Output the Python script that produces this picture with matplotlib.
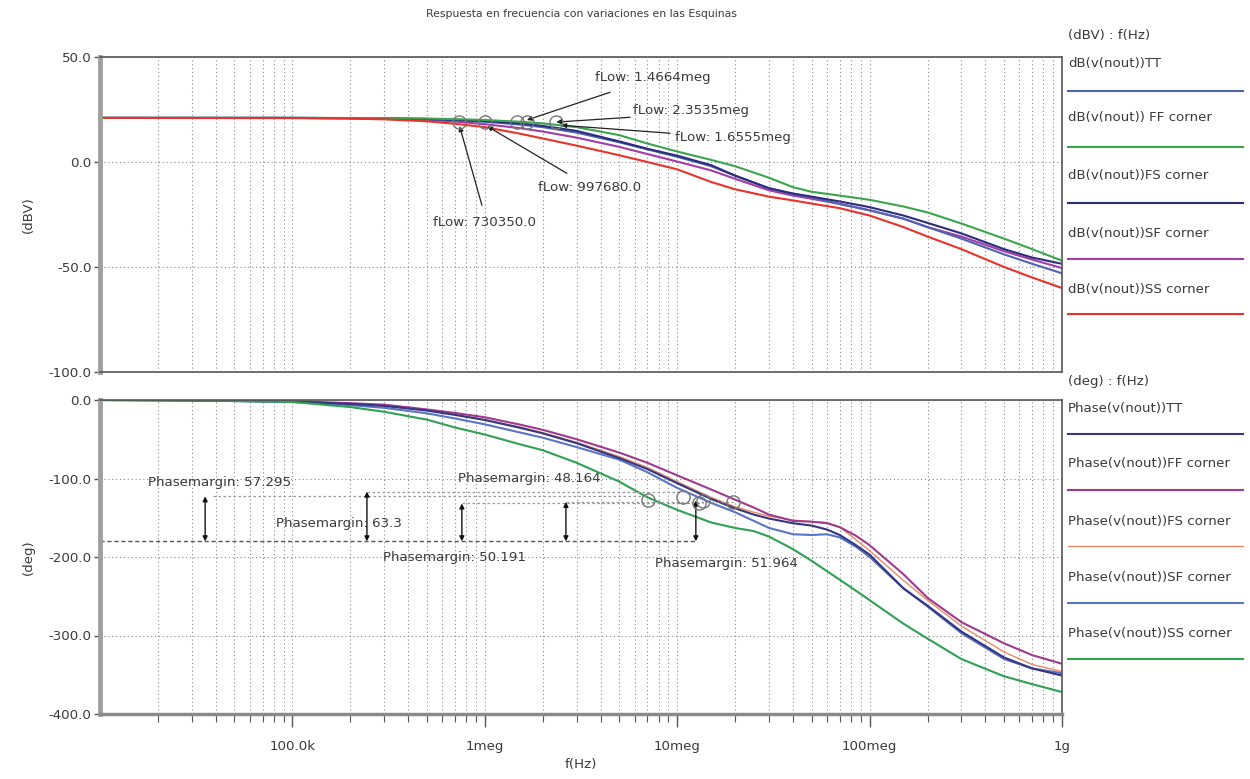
import numpy as np
import matplotlib
matplotlib.use('Agg')
import matplotlib.pyplot as plt
from matplotlib.ticker import FixedLocator, NullFormatter, FixedFormatter
from matplotlib.lines import Line2D

plt.rcParams['font.family'] = ['DejaVu Sans']

# ---------------- data ----------------
freq_mag = [1e4, 1e5, 2e5, 3e5, 5e5, 7e5, 1e6, 1.5e6, 2e6, 3e6, 5e6, 7e6, 1e7,
            1.5e7, 2e7, 3e7, 4e7, 5e7, 7e7, 1e8, 1.5e8, 2e8, 3e8, 5e8, 7e8, 1e9]
mag_TT = [21.0, 21.0, 20.9, 20.7, 20.4, 19.9, 19.2, 17.9, 16.6, 14.0, 9.4, 6.0, 2.5,
          -2.0, -6.5, -12.5, -15.3, -16.8, -20.0, -23.0, -27.0, -31.0, -36.5, -44.0, -48.5, -53.0]
mag_FF = [21.0, 21.0, 20.95, 20.9, 20.7, 20.4, 20.0, 19.2, 18.4, 16.6, 12.8, 8.8, 5.0,
          1.0, -2.0, -7.5, -12.0, -14.2, -16.0, -18.0, -21.2, -24.0, -29.3, -36.5, -41.5, -47.0]
mag_FS = [21.0, 21.0, 20.9, 20.8, 20.5, 20.1, 19.5, 18.4, 17.2, 14.8, 9.8, 6.3, 3.0,
          -1.5, -6.5, -12.5, -15.0, -16.5, -18.8, -21.5, -25.5, -29.0, -34.0, -41.5, -45.5, -48.5]
mag_SF = [21.0, 21.0, 20.8, 20.6, 20.1, 19.3, 18.0, 16.2, 14.5, 11.6, 7.2, 3.8, 0.2,
          -4.0, -8.0, -13.5, -16.0, -17.5, -20.0, -23.0, -27.0, -31.0, -35.5, -42.5, -46.5, -50.5]
mag_SS = [21.0, 20.9, 20.7, 20.3, 19.4, 18.2, 16.6, 13.6, 11.2, 7.8, 3.2, 0.0, -3.5,
          -9.5, -13.0, -16.5, -18.3, -19.8, -22.0, -25.5, -31.0, -35.5, -41.5, -50.0, -55.0, -60.0]

freq_ph = [1e4, 3e4, 1e5, 2e5, 3e5, 5e5, 7e5, 1e6, 1.5e6, 2e6, 3e6, 5e6, 7e6, 1e7, 1.5e7,
           2e7, 2.5e7, 3e7, 4e7, 5e7, 6e7, 7e7, 8.5e7, 1e8, 1.5e8, 2e8, 3e8, 5e8, 7e8, 1e9]
ph_TT = [0, -0.5, -2, -5, -7.5, -13.5, -19, -25.5, -35, -42.5, -55, -74, -88, -106, -126,
         -138, -146, -151, -157, -160, -165, -172, -185, -197, -240, -262, -295, -328, -342, -351]
ph_FF = [0, -0.3, -1.5, -4, -6, -12, -16.5, -22, -31, -38, -50, -67, -80, -96, -114,
         -127, -137, -146, -154, -155, -157, -162, -173, -185, -222, -252, -283, -310, -325, -336]
ph_FS = [0, -0.5, -2, -5, -7.5, -13, -18.5, -25, -34, -41.5, -54, -72, -86, -104, -124,
         -136, -143, -148, -153, -155, -156, -162, -178, -192, -230, -255, -288, -321, -337, -346]
ph_SF = [0, -0.5, -2.5, -6.5, -10, -17, -23.5, -31, -41, -48, -60, -76, -92, -112, -131,
         -143, -154, -163, -171, -172, -171, -175, -187, -200, -240, -263, -297, -330, -342, -348]
ph_SS = [0, -0.5, -2.5, -9, -15, -25, -35, -44, -56, -64, -80, -104, -124, -140, -156,
         -163, -167, -174, -190, -205, -218, -229, -243, -255, -285, -304, -330, -352, -362, -372]

flow_freq = [730350.0, 997680.0, 1.4664e6, 1.6555e6, 2.3535e6]
flow_val = [19.0, 19.0, 19.0, 19.0, 19.0]
flow_labels = ['fLow: 730350.0', 'fLow: 997680.0', 'fLow: 1.4664meg', 'fLow: 1.6555meg', 'fLow: 2.3535meg']

pm_freq = [7.05e6, 1.07e7, 1.3e7, 1.36e7, 1.95e7]
pm_val = [-128, -124, -131, -129, -130]
pm_values = [57.295, 63.3, 50.191, 48.164, 51.964]

mag_labels = ['dB(v(nout))TT', 'dB(v(nout)) FF corner', 'dB(v(nout))FS corner',
              'dB(v(nout))SF corner', 'dB(v(nout))SS corner']
ph_labels = ['Phase(v(nout))TT', 'Phase(v(nout))FF corner', 'Phase(v(nout))FS corner',
             'Phase(v(nout))SF corner', 'Phase(v(nout))SS corner']

mag_colors = ['#4f63b5', '#3aa54c', '#2b2d7c', '#a33ca6', '#e8322b']
ph_colors = ['#34367f', '#9e3a8e', '#ea8a62', '#5a74c8', '#2fa153']

x_ticks = [1e5, 1e6, 1e7, 1e8, 1e9]
x_ticklabels = ['100.0k', '1meg', '10meg', '100meg', '1g']
mag_yticks = [50, 0, -50, -100]
mag_yticklabels = ['50.0', '0.0', '-50.0', '-100.0']
ph_yticks = [0, -100, -200, -300, -400]
ph_yticklabels = ['0.0', '-100.0', '-200.0', '-300.0', '-400.0']

# ---------------- figure ----------------
W, H = 1250, 779
fig = plt.figure(figsize=(12.5, 7.79), dpi=100)
ax1 = fig.add_axes([100 / W, 1 - 372 / H, 962 / W, 315 / H])
ax2 = fig.add_axes([100 / W, 1 - 714 / H, 962 / W, 314 / H])

txtc = '#3a3a3a'
FS = 9.6
minor = [m * 10 ** d for d in range(4, 9) for m in range(2, 10)]


def style(ax, yticks, ylabels, ylim):
    ax.set_xscale('log')
    ax.set_xlim(1e4, 1e9)
    ax.set_ylim(*ylim)
    ax.xaxis.set_major_locator(FixedLocator(x_ticks))
    ax.xaxis.set_major_formatter(FixedFormatter(x_ticklabels))
    ax.xaxis.set_minor_locator(FixedLocator(minor))
    ax.xaxis.set_minor_formatter(NullFormatter())
    ax.yaxis.set_major_locator(FixedLocator(yticks))
    ax.yaxis.set_major_formatter(FixedFormatter(ylabels))
    ax.yaxis.set_minor_locator(FixedLocator([]))
    ax.grid(True, which='both', axis='x', linestyle=(0, (1, 2.5)), color='#8a8a8a', lw=0.8)
    ax.grid(True, which='major', axis='y', linestyle=(0, (1, 2.5)), color='#8a8a8a', lw=0.8)
    for s in ['top', 'right', 'bottom']:
        ax.spines[s].set_color('#555555')
        ax.spines[s].set_linewidth(1.2)
    ax.spines['left'].set_color('#a0a0a0')
    ax.spines['left'].set_linewidth(3.5)
    ax.tick_params(axis='y', which='major', length=4, width=1, color='#555555',
                   labelsize=FS, labelcolor=txtc, pad=2)


style(ax1, mag_yticks, mag_yticklabels, (-100, 50))
style(ax2, ph_yticks, ph_yticklabels, (-400, 0))
ax1.tick_params(axis='x', which='both', bottom=False, labelbottom=False)
ax2.tick_params(axis='x', which='major', length=9, width=1, color='#555555',
                labelsize=FS, labelcolor=txtc, pad=10)
ax2.tick_params(axis='x', which='minor', length=6, width=0.8, color='#555555')
ax2.spines['bottom'].set_color('#8a8a8a')
ax2.spines['bottom'].set_linewidth(2.5)

ax1.set_ylabel('(dBV)', fontsize=FS, color=txtc, labelpad=10)
ax2.set_ylabel('(deg)', fontsize=FS, color=txtc, labelpad=10)
ax2.set_xlabel('f(Hz)', fontsize=FS, color=txtc, labelpad=3)

# ---------------- curves ----------------
mags = [mag_TT, mag_FF, mag_FS, mag_SF, mag_SS]
for i in [3, 0, 2, 1, 4]:
    ax1.plot(freq_mag, mags[i], color=mag_colors[i], lw=1.5, solid_joinstyle='round')

phs = [ph_TT, ph_FF, ph_FS, ph_SF, ph_SS]
for i in [2, 1, 3, 0, 4]:
    ax2.plot(freq_ph, phs[i], color=ph_colors[i], lw=1.5 if i != 2 else 1.0,
             solid_joinstyle='round')

# ---------------- top annotations ----------------
ax1.plot(flow_freq, flow_val, linestyle='none', marker='o', ms=9.5, mfc='none',
         mec='#777777', mew=1.0, zorder=5)
ann = [
    (flow_labels[2], (3.74e6, 40.3), (4.48e6, 33.2), (1.6555e6, 20.0)),
    (flow_labels[4], (5.89e6, 24.6), (5.69e6, 21.3), (2.3535e6, 19.0)),
    (flow_labels[3], (9.75e6, 11.8), (9.18e6, 13.7), (2.5e6, 17.5)),
    (flow_labels[1], (1.89e6, -12.0), (2.67e6, -5.4), (1.03e6, 17.0)),
    (flow_labels[0], (5.38e5, -28.7), (9.66e5, -20.6), (7.4e5, 17.0)),
]
for lab, tp, p0, p1 in ann:
    ax1.text(tp[0], tp[1], lab, fontsize=FS, color=txtc, va='center', ha='left')
    ax1.annotate('', xy=p1, xytext=p0,
                 arrowprops=dict(arrowstyle='-|>', lw=0.9, color='#222222',
                                 mutation_scale=7, shrinkA=0, shrinkB=0))

# ---------------- bottom annotations ----------------
ax2.plot([1e4, 1.25e7], [-180, -180], linestyle=(0, (3, 2)), color='#555555', lw=1.0)
for (f0, f1, y) in [(3.86e4, 7.05e6, -122.7), (2.44e5, 1.07e7, -116.7),
                    (7.6e5, 1.36e7, -131.8), (2.64e6, 1.95e7, -129.8)]:
    ax2.plot([f0, f1], [y, y], linestyle=(0, (2, 2)), color='#999999', lw=0.9)

ax2.plot(pm_freq, pm_val, linestyle='none', marker='o', ms=9.5, mfc='none',
         mec='#777777', mew=1.0, zorder=5)
arrows = [(3.52e4, -122.7), (2.44e5, -116.7), (7.6e5, -131.8), (2.64e6, -129.8),
          (1.25e7, -128.0)]
for f, y in arrows:
    ax2.annotate('', xy=(f, -180), xytext=(f, y),
                 arrowprops=dict(arrowstyle='<|-|>', lw=1.0, color='#111111',
                                 mutation_scale=7, shrinkA=0, shrinkB=0))

pm_text = [(1.78e4, -105, pm_values[0]), (8.2e4, -157, pm_values[1]),
           (2.96e5, -200.8, pm_values[2]), (7.26e5, -99.7, pm_values[3]),
           (7.67e6, -208, pm_values[4])]
for f, y, v in pm_text:
    ax2.text(f, y, 'Phasemargin: %g' % v, fontsize=FS, color=txtc,
             va='center', ha='left')

# ---------------- title ----------------
fig.text(581 / W, 1 - 14 / H, 'Respuesta en frecuencia con variaciones en las Esquinas',
         fontsize=7.8, color=txtc, ha='center', va='center')

# ---------------- legends ----------------
lx0, lx1 = 1068 / W, 1243 / W
fig.text(lx0, 1 - 36 / H, '(dBV) : f(Hz)', fontsize=FS, color=txtc, va='center')
mag_text_y = [63, 117, 176, 233, 289]
mag_line_y = [91, 147, 203, 259, 314]
for i in range(5):
    fig.text(lx0, 1 - mag_text_y[i] / H, mag_labels[i], fontsize=FS, color=txtc, va='center')
    fig.add_artist(Line2D([lx0, lx1], [1 - mag_line_y[i] / H] * 2, color=mag_colors[i], lw=1.5))

fig.text(lx0, 1 - 382 / H, '(deg) : f(Hz)', fontsize=FS, color=txtc, va='center')
ph_text_y = [408, 464, 521, 577, 634]
ph_line_y = [434, 490, 546, 603, 659]
for i in range(5):
    fig.text(lx0, 1 - ph_text_y[i] / H, ph_labels[i], fontsize=FS, color=txtc, va='center')
    fig.add_artist(Line2D([lx0, lx1], [1 - ph_line_y[i] / H] * 2, color=ph_colors[i],
                          lw=1.5 if i != 2 else 1.0))

fig.savefig('out.png', dpi=100)
